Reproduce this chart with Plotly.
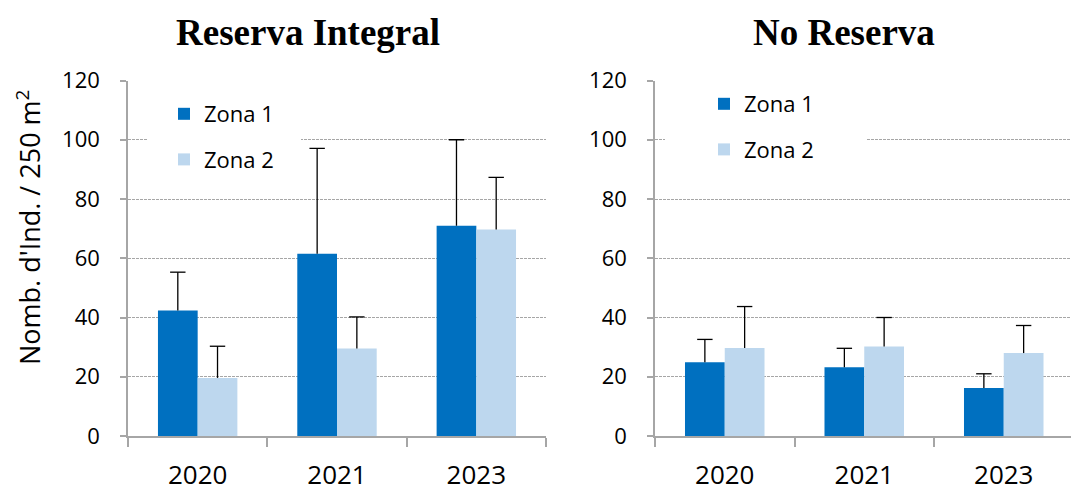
import plotly.graph_objects as go

# ---- data -------------------------------------------------------------
years = ["2020", "2021", "2023"]
zones = ["Zona 1", "Zona 2"]

# Reserva Integral: means and (upper) standard deviations
ri_zona1 = [42.4, 61.5, 71.0]
ri_zona1_sd = [12.9, 35.6, 29.0]
ri_zona2 = [19.6, 29.5, 69.7]
ri_zona2_sd = [10.7, 10.7, 17.6]

# No Reserva
nr_zona1 = [24.9, 23.2, 16.2]
nr_zona1_sd = [7.7, 6.4, 4.8]
nr_zona2 = [29.7, 30.2, 28.0]
nr_zona2_sd = [14.0, 9.8, 9.3]

y_ticks = [0, 20, 40, 60, 80, 100, 120]

# ---- style ------------------------------------------------------------
COL_Z1 = "#0070C0"
COL_Z2 = "#BDD7EE"
AXIS_GREY = "#A6A6A6"
GRID_GREY = "#A6A6A6"
FONT = "Open Sans"
BARGAP = 0.43

W, H = 1071, 491


def px_x(p):
    return p / W


def px_y(p):
    return 1 - p / H


fig = go.Figure()

# bar centre offsets inside a category for two grouped bars
bar_w = (1 - BARGAP) / 2
offsets = [-bar_w / 2, bar_w / 2]
xpos = list(range(len(years)))

panels = [
    ("x", "y", "legend", [(ri_zona1, ri_zona1_sd), (ri_zona2, ri_zona2_sd)]),
    ("x2", "y2", "legend2", [(nr_zona1, nr_zona1_sd), (nr_zona2, nr_zona2_sd)]),
]
colors = [COL_Z1, COL_Z2]

for xa, ya, leg, series in panels:
    for k, (vals, sd) in enumerate(series):
        fig.add_trace(go.Bar(
            x=xpos, y=vals, name=zones[k], marker_color=colors[k],
            marker_line_width=0, xaxis=xa, yaxis=ya, legend=leg,
            legendgroup=f"{leg}_{k}",
            error_y=dict(type="data", symmetric=False, array=sd,
                         arrayminus=[0] * len(sd), color="black",
                         thickness=1.3, width=0),
        ))
    # caps on top of the error bars
    for k, (vals, sd) in enumerate(series):
        fig.add_trace(go.Scatter(
            x=[i + offsets[k] for i in xpos],
            y=[v + s for v, s in zip(vals, sd)],
            mode="markers", showlegend=False, hoverinfo="skip",
            marker=dict(symbol="line-ew", size=11, color="black",
                        line=dict(width=1.3, color="black")),
            xaxis=xa, yaxis=ya,
        ))

x_common = dict(
    tickmode="array", tickvals=xpos, ticktext=years, ticks="",
    showline=True, linecolor=AXIS_GREY, linewidth=1.5,
    showgrid=False, zeroline=False, automargin=False,
    tickfont=dict(family=FONT, size=26, color="black"),
    ticklabelstandoff=15,
    minor=dict(tickmode="array", tickvals=[-0.5, 0.5, 1.5, 2.5],
               ticks="outside", ticklen=9, tickwidth=1.5,
               tickcolor=AXIS_GREY, showgrid=False),
)
y_common = dict(
    range=[0, 120], tickmode="array", tickvals=y_ticks,
    ticks="outside", ticklen=6, tickwidth=1.5, tickcolor=AXIS_GREY,
    showline=True, linecolor=AXIS_GREY, linewidth=1.5,
    showgrid=True, gridcolor=GRID_GREY, gridwidth=1, griddash="3px,1px",
    zeroline=False, automargin=False,
    tickfont=dict(family=FONT, size=22, color="black"),
    ticklabelstandoff=16,
)

y_dom = [px_y(436), px_y(80.5)]

fig.update_layout(
    width=W, height=H,
    margin=dict(l=0, r=0, t=0, b=0, autoexpand=False),
    paper_bgcolor="white", plot_bgcolor="white",
    barmode="group", bargap=BARGAP, bargroupgap=0,
    xaxis=dict(domain=[px_x(128), px_x(546)], range=[-0.5, 2.5], **x_common),
    yaxis=dict(domain=y_dom, anchor="x", **y_common),
    xaxis2=dict(domain=[px_x(655), 1.0],
                range=[-0.5, -0.5 + (W - 655) / 139.5], anchor="y2", **x_common),
    yaxis2=dict(domain=y_dom, anchor="x2", **y_common),
    legend=dict(x=px_x(164), y=px_y(93), xanchor="left", yanchor="top",
                bgcolor="rgba(0,0,0,0)", font=dict(family=FONT, size=22, color="black"),
                tracegroupgap=14, traceorder="grouped"),
    legend2=dict(x=px_x(704), y=px_y(83), xanchor="left", yanchor="top",
                 bgcolor="rgba(0,0,0,0)", font=dict(family=FONT, size=22, color="black"),
                 tracegroupgap=14, traceorder="grouped"),
    showlegend=True,
)

# white boxes behind the legends, interrupting the grid lines
for x0, x1, y0, y1 in [(148, 301, 90, 180), (665, 867, 86, 178)]:
    fig.add_shape(type="rect", xref="paper", yref="paper",
                  x0=px_x(x0), x1=px_x(x1), y0=px_y(y1), y1=px_y(y0),
                  fillcolor="white", line_width=0, layer="above")

# panel titles
for text, cx in [("Reserva Integral", 308), ("No Reserva", 844)]:
    fig.add_annotation(text=f"<b>{text}</b>", xref="paper", yref="paper",
                       x=px_x(cx), y=px_y(33), xanchor="center", yanchor="middle",
                       showarrow=False,
                       font=dict(family="Liberation Serif", size=37, color="black"))

# y-axis title
fig.add_annotation(text="Nomb. d'Ind. / 250 m<sup>2</sup>", xref="paper", yref="paper",
                   x=px_x(28), y=px_y(228), xanchor="center", yanchor="middle",
                   textangle=-90, showarrow=False,
                   font=dict(family=FONT, size=27, color="black"))

fig.write_html("out.html")
